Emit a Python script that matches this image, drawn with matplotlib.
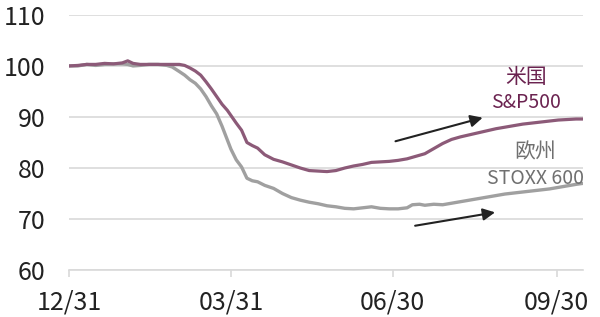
import matplotlib
matplotlib.use("Agg")
import matplotlib.pyplot as plt

plt.rcParams['font.family'] = ['Noto Sans CJK JP', 'DejaVu Sans']

# days since 12/31, index values (start = 100)
days = [0, 5, 10, 15, 20, 25, 30, 33, 36, 40, 45, 50, 55, 58, 62, 65, 68, 71,
        74, 77, 80, 83, 86, 89, 91, 94, 97, 100, 103, 106, 110, 115, 120, 125,
        130, 135, 140, 145, 150, 155, 160, 165, 170, 175, 180, 185, 190, 193,
        197, 200, 205, 210, 215, 220, 225, 230, 235, 240, 245, 250, 255, 260,
        265, 270, 275, 280, 285, 289]
us = [100.0, 100.1, 100.3, 100.3, 100.5, 100.4, 100.6, 101.0, 100.5, 100.3,
      100.3, 100.3, 100.3, 100.3, 100.3, 100.1, 99.6, 99.0, 98.2, 96.9, 95.5,
      94.0, 92.5, 91.3, 90.3, 88.8, 87.4, 85.0, 84.4, 83.9, 82.6, 81.7, 81.2,
      80.6, 80.0, 79.5, 79.4, 79.3, 79.5, 80.0, 80.4, 80.7, 81.1, 81.2, 81.3,
      81.5, 81.8, 82.1, 82.5, 82.8, 83.8, 84.8, 85.6, 86.1, 86.5, 86.9, 87.3,
      87.7, 88.0, 88.3, 88.6, 88.8, 89.0, 89.2, 89.4, 89.5, 89.6, 89.6]
eu = [100.0, 100.0, 100.3, 100.1, 100.3, 100.4, 100.4, 100.3, 100.0, 100.1,
      100.3, 100.3, 100.1, 99.8, 98.9, 98.2, 97.3, 96.6, 95.5, 94.0, 92.2,
      90.6, 88.2, 85.5, 83.7, 81.6, 80.2, 78.0, 77.5, 77.3, 76.6, 76.0, 75.0,
      74.2, 73.7, 73.3, 73.0, 72.6, 72.4, 72.1, 72.0, 72.2, 72.4, 72.1, 72.0,
      72.0, 72.2, 72.8, 72.9, 72.7, 72.9, 72.8, 73.1, 73.4, 73.7, 74.0, 74.3,
      74.6, 74.9, 75.1, 75.3, 75.5, 75.7, 75.9, 76.2, 76.5, 76.8, 77.0]

xticks = [0, 91, 182, 274]
xlabels = ['12/31', '03/31', '06/30', '09/30']
yticks = [60, 70, 80, 90, 100, 110]

us_color = '#8c5a78'
eu_color = '#a0a0a0'
grid_color = '#d9d9d9'

fig = plt.figure(figsize=(6, 3.17), dpi=100)
ax = fig.add_axes([0.115, 0.148, 0.857, 0.805])

ax.plot(days, eu, color=eu_color, lw=2.4, zorder=3)
ax.plot(days, us, color=us_color, lw=2.3, zorder=4)

ax.set_xlim(0, 289)
ax.set_ylim(60, 110)
ax.set_yticks(yticks)
ax.set_xticks(xticks)
ax.set_xticklabels(xlabels)
ax.yaxis.grid(True, color=grid_color, lw=1.2)
ax.set_axisbelow(True)
for s in ['top', 'right', 'left']:
    ax.spines[s].set_visible(False)
ax.spines['bottom'].set_color(grid_color)
ax.spines['bottom'].set_linewidth(1.2)
ax.tick_params(axis='y', length=0, pad=17, labelsize=18, labelcolor='#222222')
ax.tick_params(axis='x', length=5, width=1.2, color=grid_color, pad=9,
               labelsize=18, labelcolor='#222222')

ax.annotate('', xy=(234, 90.0), xytext=(182, 85.1),
            arrowprops=dict(arrowstyle='-|>', color='#222222', lw=1.5,
                            mutation_scale=18))
ax.annotate('', xy=(241, 71.4), xytext=(193, 68.6),
            arrowprops=dict(arrowstyle='-|>', color='#222222', lw=1.5,
                            mutation_scale=18))

ax.text(257, 97.9, '米国', color='#6b2350', fontsize=15, ha='center', va='center')
ax.text(257, 92.9, 'S&P500', color='#6b2350', fontsize=14, ha='center', va='center')
ax.text(262, 83.1, '欧州', color='#707070', fontsize=15, ha='center', va='center')
ax.text(262, 78.0, 'STOXX 600', color='#707070', fontsize=14, ha='center', va='center')

fig.savefig('out.png', dpi=100)
